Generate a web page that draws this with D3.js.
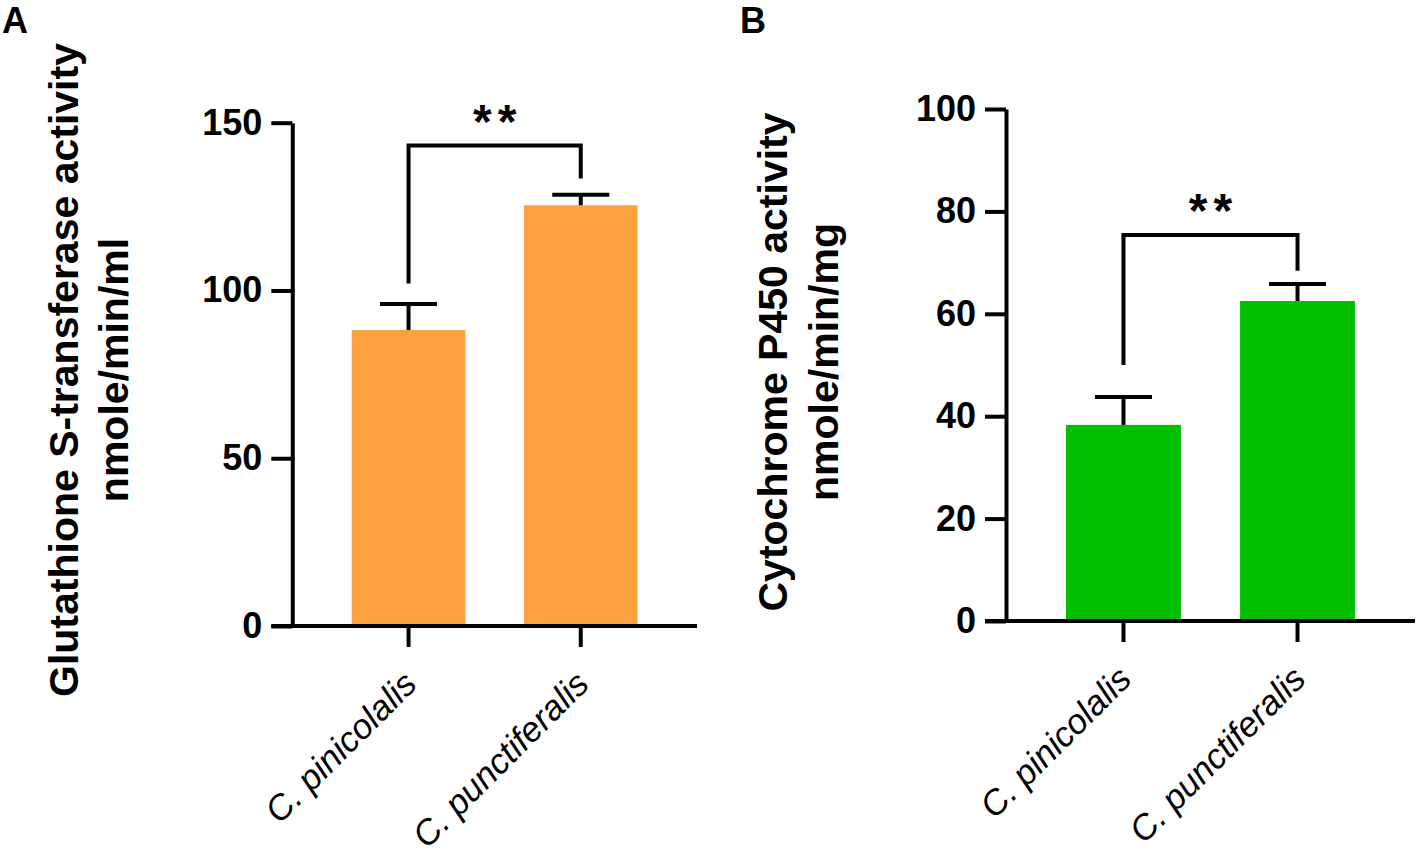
<!DOCTYPE html>
<html>
<head>
<meta charset="utf-8">
<script src="https://cdn.jsdelivr.net/npm/d3@7/dist/d3.min.js"></script>
<style>
  html, body { margin: 0; padding: 0; background: #fff; }
  svg { display: block; font-family: "Liberation Sans", Arial, Helvetica, sans-serif; }
</style>
</head>
<body>
<svg id="chart" width="1416" height="855"></svg>
<script>
// ---- data ----
const categories = ["C. pinicolalis", "C. punctiferalis"];

const gstMeans = [88.2, 125.4];
const gstSEM = [7.8, 3.1];
const gstTicks = [0, 50, 100, 150];
const gstBracket = [102.1, 143.2, 133.4]; // left leg bottom, top, right leg bottom
const gstTitle = ["Glutathione S-transferase activity", "nmole/min/ml"];

const p450Means = [38.3, 62.5];
const p450SEM = [5.45, 3.3];
const p450Ticks = [0, 20, 40, 60, 80, 100];
const p450Bracket = [50.0, 75.4, 68.4];
const p450Title = ["Cytochrome P450 activity", "nmole/min/mg"];

const sigLabel = "**";

// ---- drawing ----
const svg = d3.select("#chart");
const LW = 4;

function panel(opts) {
  const g = svg.append("g");
  const y = d3.scaleLinear().domain(opts.domain).range([opts.y0, opts.y1]);
  const x = d3.scaleBand().domain(categories)
    .range([opts.xAxis, opts.xEnd]).paddingInner(0.34).paddingOuter(0.345);

  // bars
  g.selectAll("rect.bar").data(categories).join("rect")
    .attr("x", d => x(d)).attr("width", x.bandwidth())
    .attr("y", (d, i) => y(opts.means[i]))
    .attr("height", (d, i) => y(0) - y(opts.means[i]))
    .attr("fill", opts.color);

  // error bars
  const capW = 57;
  categories.forEach((c, i) => {
    const cx = x(c) + x.bandwidth() / 2;
    const top = y(opts.means[i] + opts.sem[i]);
    g.append("line").attr("x1", cx).attr("x2", cx)
      .attr("y1", y(opts.means[i])).attr("y2", top)
      .attr("stroke", "#000").attr("stroke-width", LW);
    g.append("line").attr("x1", cx - capW / 2).attr("x2", cx + capW / 2)
      .attr("y1", top).attr("y2", top)
      .attr("stroke", "#000").attr("stroke-width", LW);
  });

  // y axis
  const yAxis = g.append("g").attr("transform", `translate(${opts.xAxis},0)`)
    .call(d3.axisLeft(y).tickValues(opts.ticks).tickSize(21).tickSizeOuter(0).tickPadding(9));
  yAxis.select(".domain").attr("stroke", "#000").attr("stroke-width", LW);
  yAxis.selectAll(".tick line").attr("stroke", "#000").attr("stroke-width", LW);
  yAxis.selectAll(".tick text").attr("fill", "#000")
    .style("font-size", "36px").style("font-weight", "bold");

  // x axis
  const xAxis = g.append("g").attr("transform", `translate(0,${opts.y0})`)
    .call(d3.axisBottom(x).tickSize(21).tickSizeOuter(0));
  xAxis.select(".domain").attr("stroke", "#000").attr("stroke-width", LW)
    .attr("d", `M${opts.xAxis - 21},0H${opts.xEnd}`);
  xAxis.selectAll(".tick line").attr("stroke", "#000").attr("stroke-width", LW);
  xAxis.selectAll(".tick text")
    .attr("fill", "#000")
    .attr("y", null).attr("dy", null)
    .attr("text-anchor", "end")
    .attr("transform", "translate(10,60) rotate(-45)")
    .style("font-size", "35px").style("font-style", "italic");

  // significance bracket
  const xl = x(categories[0]) + x.bandwidth() / 2;
  const xr = x(categories[1]) + x.bandwidth() / 2;
  const b = opts.bracket;
  g.append("path")
    .attr("d", `M${xl},${y(b[0])}V${y(b[1])}H${xr}V${y(b[2])}`)
    .attr("fill", "none").attr("stroke", "#000").attr("stroke-width", LW)
    .attr("stroke-linejoin", "miter");
  g.append("text")
    .attr("x", (xl + xr) / 2 + 3).attr("y", y(b[1]) - 8)
    .attr("text-anchor", "middle")
    .style("font-size", "48px").style("font-weight", "bold")
    .style("letter-spacing", "6px")
    .text(sigLabel);

  // y title (two lines, rotated)
  const tcy = opts.titleCY;
  opts.title.forEach((t, i) => {
    g.append("text")
      .attr("transform", `translate(${opts.titleX[i]},${tcy}) rotate(-90)`)
      .attr("text-anchor", "middle")
      .style("font-size", "41px").style("font-weight", "bold")
      .text(t);
  });

  // panel letter
  g.append("text").attr("x", opts.letterX).attr("y", 33)
    .style("font-size", "36px").style("font-weight", "bold")
    .text(opts.letter);
}

panel({
  letter: "A", letterX: 2,
  domain: [0, 150], y0: 626, y1: 122.7,
  xAxis: 292.3, xEnd: 697,
  means: gstMeans, sem: gstSEM, ticks: gstTicks,
  bracket: gstBracket, color: "#FDA040",
  title: gstTitle, titleX: [78, 128], titleCY: 370
});

panel({
  letter: "B", letterX: 740,
  domain: [0, 100], y0: 621, y1: 109,
  xAxis: 1006, xEnd: 1415,
  means: p450Means, sem: p450SEM, ticks: p450Ticks,
  bracket: p450Bracket, color: "#00C000",
  title: p450Title, titleX: [787, 838], titleCY: 362
});
</script>
</body>
</html>
